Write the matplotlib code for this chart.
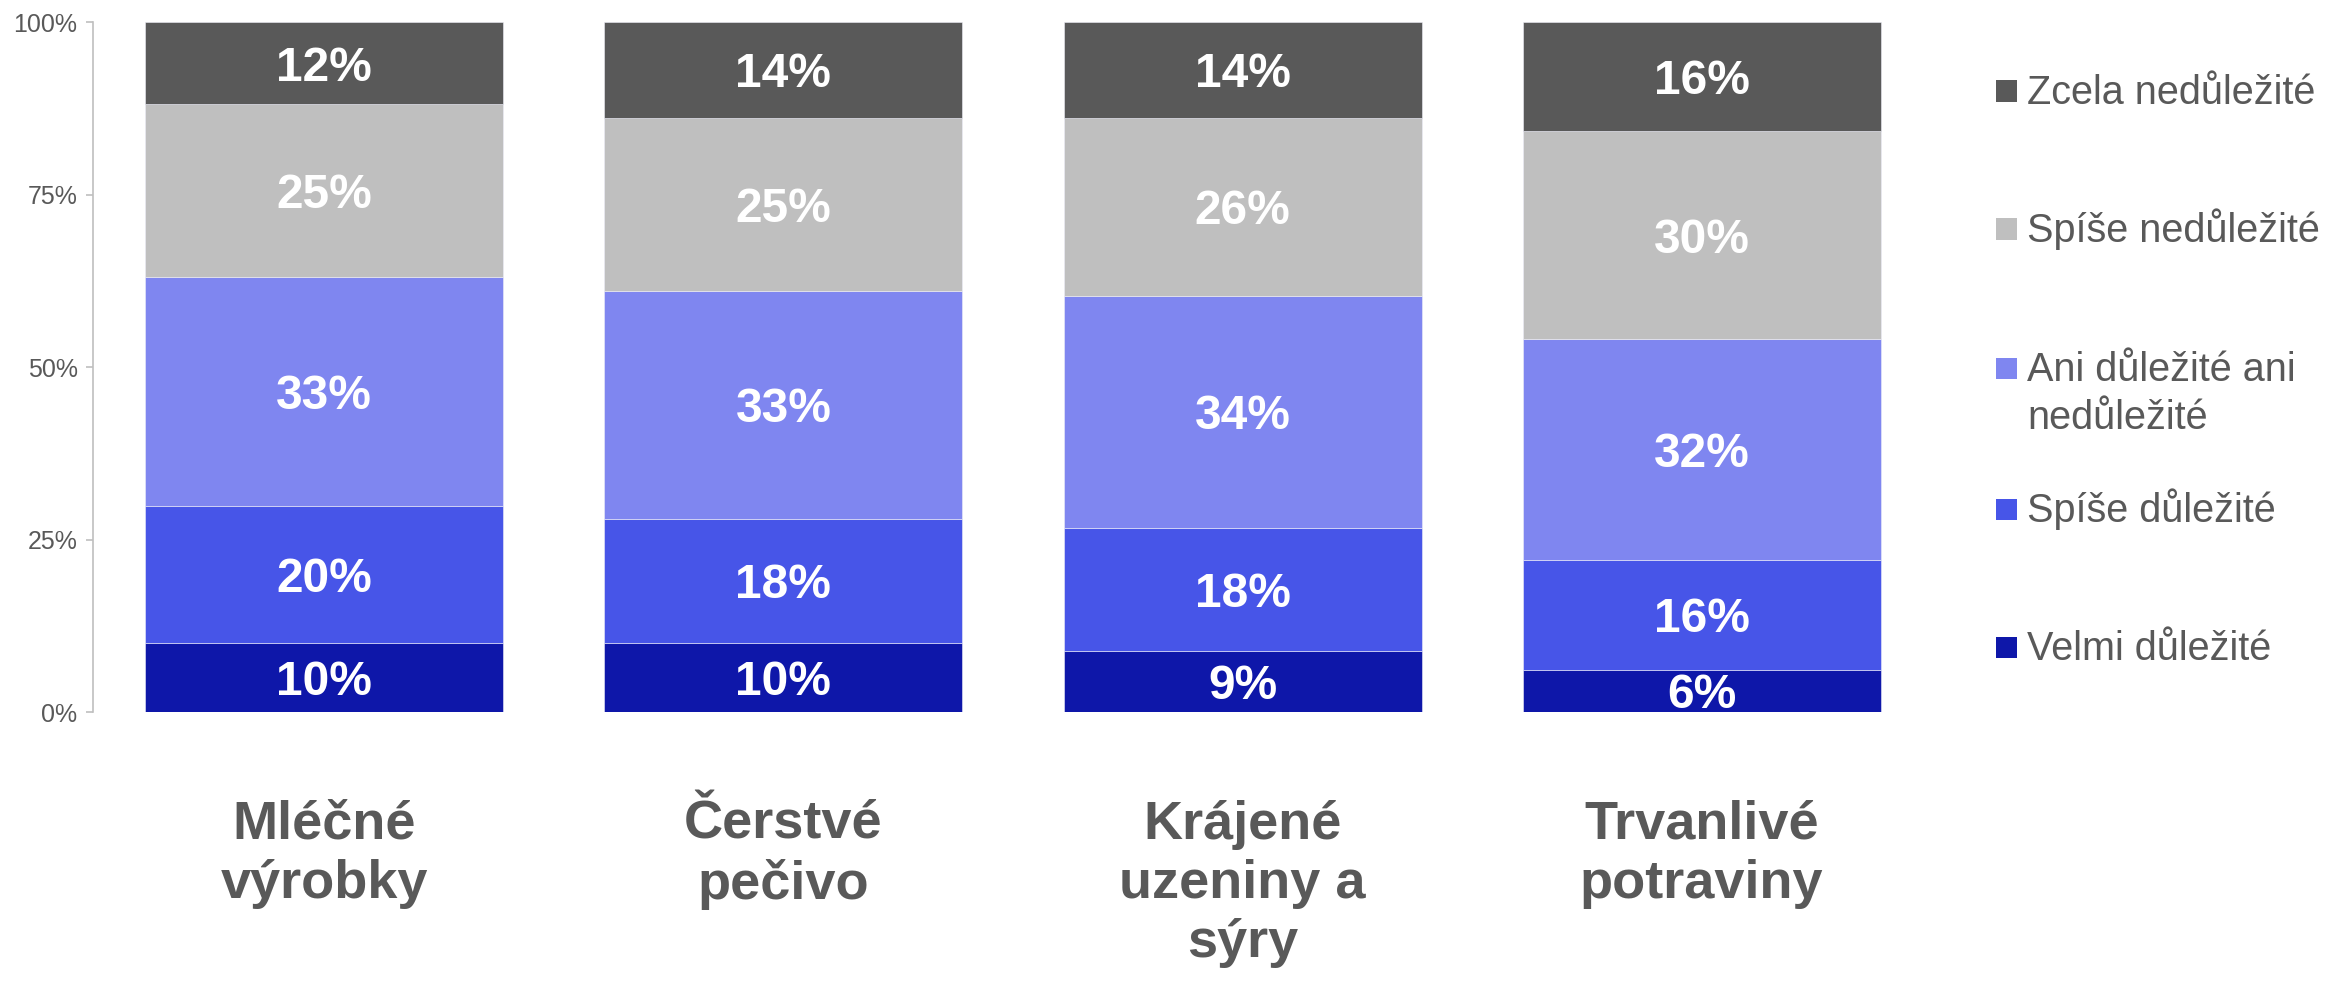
import matplotlib
matplotlib.use("Agg")
import matplotlib.pyplot as plt
import numpy as np
from matplotlib.patches import Rectangle

plt.rcParams['font.family'] = ['Liberation Sans', 'DejaVu Sans']

categories = ["Mléčné\nvýrobky", "Čerstvé\npečivo", "Krájené\nuzeniny a\nsýry", "Trvanlivé\npotraviny"]
series_names = ["Velmi důležité", "Spíše důležité", "Ani důležité ani\nnedůležité",
                "Spíše nedůležité", "Zcela nedůležité"]
velmi = [10.0, 10.0, 8.9, 6.1]
spise_dul = [19.9, 18.0, 17.8, 16.0]
ani = [33.2, 33.0, 33.6, 31.9]
spise_nedul = [25.0, 25.1, 25.8, 30.2]
zcela = [11.9, 13.9, 13.9, 15.8]
colors = ["#0E17A9", "#4755E8", "#7F86F0", "#BFBFBF", "#595959"]
yticks = [0, 25, 50, 75, 100]
ytick_labels = ["0%", "25%", "50%", "75%", "100%"]

series = [velmi, spise_dul, ani, spise_nedul, zcela]
text_color = "#595959"

W, H = 2346, 984
fig = plt.figure(figsize=(W / 100, H / 100), dpi=100)
ax = fig.add_axes([0.0396, 0.2764, 0.7844, 0.7012])

x = np.arange(len(categories))
bottom = np.zeros(len(categories))
for vals, col, name in zip(series, colors, series_names):
    vals = np.array(vals)
    ax.bar(x, vals, width=0.78, bottom=bottom, color=col, label=name,
           edgecolor="#EEEEF8", linewidth=0.4)
    for xi, b, v in zip(x, bottom, vals):
        ax.text(xi, b + v / 2, f"{v:.0f}%", ha="center", va="center_baseline",
                color="white", fontsize=34.5, fontweight="bold")
    bottom += vals

ax.set_xlim(-0.504, 3.504)
ax.set_ylim(0, 100)
ax.set_yticks(yticks)
ax.set_yticklabels(ytick_labels)
ax.tick_params(axis="y", colors="#BFBFBF", labelcolor=text_color, labelsize=18,
               length=5, width=1.2, pad=6)
ax.set_xticks(x)
ax.set_xticklabels(categories, fontsize=39, fontweight="bold", color=text_color,
                   linespacing=1.24)
ax.tick_params(axis="x", length=0, pad=63)
for s in ["top", "right", "bottom"]:
    ax.spines[s].set_visible(False)
ax.spines["left"].set_color("#BFBFBF")
ax.spines["left"].set_linewidth(1.2)

# Legend (top entry = top segment), drawn in figure pixel positions
leg_fs = 28.5
cap_px = 0.716 * leg_fs * 100 / 72
line_step = 48
leg_centers = [90, 228, 367, 508, 646]
sq = 21
for name, col, yc in zip(series_names[::-1], colors[::-1], leg_centers):
    fig.add_artist(Rectangle((1996 / W, 1 - (yc + sq / 2 + 1) / H), sq / W, sq / H,
                             transform=fig.transFigure, facecolor=col, edgecolor="none"))
    for i, line in enumerate(name.split("\n")):
        fig.text(2027 / W, 1 - (yc + cap_px / 2 + i * line_step) / H, line,
                 ha="left", va="baseline", fontsize=leg_fs, color=text_color)

fig.savefig("out.png", dpi=100)
